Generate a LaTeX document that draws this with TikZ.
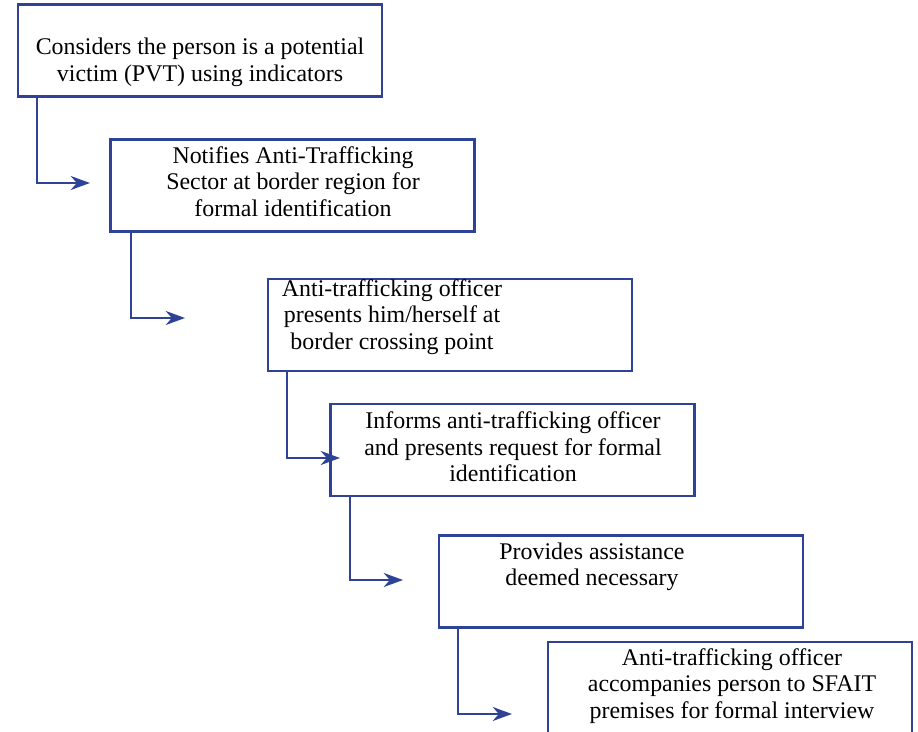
\documentclass[tikz,border=0pt]{standalone}
\usepackage{fontspec}
\setmainfont{Liberation Serif}
\usetikzlibrary{arrows.meta}

\definecolor{boxblue}{RGB}{46,66,150}
\tikzset{
  box/.style = {draw=boxblue, line width=1.5pt, minimum width=7.28cm, minimum height=1.84cm, inner sep=0pt},
  txt/.style = {align=center, inner sep=0pt, font=\fontsize{13.6}{15.1}\selectfont},
  flow/.style = {draw=boxblue, line width=1pt, -{Stealth[length=11pt,width=8pt,inset=3.5pt]}}
}

\begin{document}
\begin{tikzpicture}[x=0.02cm, y=-0.02cm]
\useasboundingbox (0,0) rectangle (918,732);

% boxes
\node[box] (pvt) at (200,50.5) {};
\node[box] (notify) at (292.5,185.5) {};
\node[box] (officer) at (450,325) {};
\node[box] (inform) at (512.5,450) {};
\node[box] (assist) at (621,581.5) {};
\node[box, minimum height=1.88cm] (accomp) at (730,689) {};

% texts
\node[txt] (pvt-t) at (200,62.5) {Considers the person is a potential\\victim (PVT) using indicators};
\node[txt] (notify-t) at (293,181.5) {Notifies Anti-Trafficking\\Sector at border region for\\formal identification};
\node[txt] (officer-t) at (392,317) {Anti-trafficking officer\\presents him/herself at\\border crossing point};
\node[txt] (inform-t) at (513,447) {Informs anti-trafficking officer\\and presents request for formal\\identification};
\node[txt] (assist-t) at (592,567) {Provides assistance\\deemed necessary};
\node[txt] (accomp-t) at (732,686) {Anti-trafficking officer\\accompanies person to SFAIT\\premises for formal interview};

% arrow ends
\coordinate (e1) at (90,183);
\coordinate (e2) at (185,318);
\coordinate (e3) at (340,458);
\coordinate (e4) at (403,580);
\coordinate (e5) at (512,714);

\draw[flow] (pvt.south west) ++(20,0) |- (e1);
\draw[flow] (notify.south west) ++(22,0) |- (e2);
\draw[flow] (officer.south west) ++(20,0) |- (e3);
\draw[flow] (inform.south west) ++(21,0) |- (e4);
\draw[flow] (assist.south west) ++(20,0) |- (e5);
\end{tikzpicture}
\end{document}
